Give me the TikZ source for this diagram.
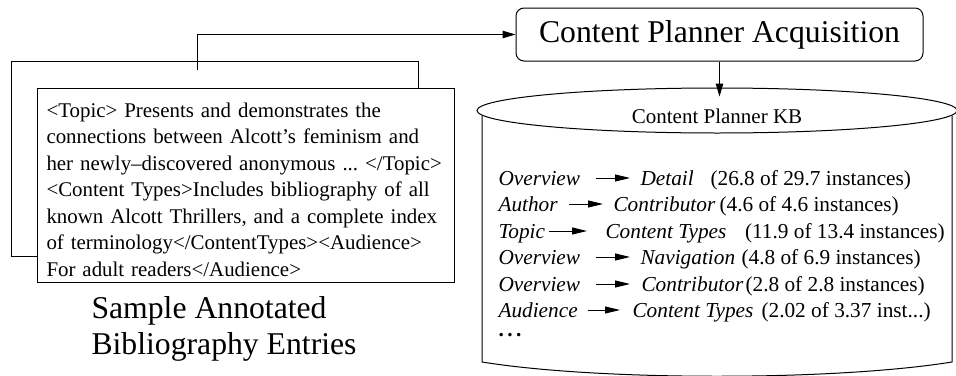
\documentclass[tikz,border=0pt]{standalone}
\usepackage{fontspec}
\setmainfont{Liberation Serif}
\usetikzlibrary{arrows.meta,shapes.geometric}
\frenchspacing
\begin{document}
\begin{tikzpicture}[x=1pt,y=-1pt,line width=1pt,
  box/.style={draw, fill=white, inner sep=0pt, anchor=north west},
  tip/.style={-{Triangle[length=13pt,width=7.5pt]}},
  kbtext/.style={inner sep=0pt, anchor=base west, font=\fontsize{21.3}{26}\selectfont},
  kbname/.style={inner sep=0pt, anchor=base west, font=\fontsize{21.3}{26}\selectfont\itshape},
  kbarrow/.style={-{Triangle[length=15pt,width=7pt]}, line width=1pt}]
\useasboundingbox (0,0) rectangle (956,375);
% bibliography entries
\node[box, minimum width=407pt, minimum height=195pt] (back) at (11,61) {};
\node[box, minimum width=417pt, minimum height=194pt] (front) at (37,88) {};
\node[anchor=north west, inner sep=0pt, text width=430pt, align=left,
      font=\fontsize{20.9}{26.5}\selectfont] (entry) at (46,102)
  {<Topic> Presents and demonstrates the\\
   connections between Alcott’s feminism and\\
   her newly–discovered anonymous ... </Topic>\\
   <Content Types>Includes bibliography of all\\
   known Alcott Thrillers, and a complete index\\
   of terminology</ContentTypes><Audience>\\
   For adult readers</Audience>};
\node[anchor=north west, inner sep=0pt, align=left,
      font=\fontsize{31.7}{36}\selectfont] (caption) at (91,296.3)
  {Sample Annotated\\Bibliography Entries};
% acquisition
\node[draw, rounded corners=8pt, minimum width=407pt, minimum height=53pt, inner sep=0pt,
      font=\fontsize{31.7}{36}\selectfont] (cpa) at (719.5,34.5) {Content Planner Acquisition};
\coordinate (start) at (197,70);
\draw[tip] (start) |- (cpa.west);
% knowledge base cylinder
\draw (482,115.6) -- (482,362) .. controls (600,381) and (834,381) .. (952,362) -- (952,115.6);
\node[draw, ellipse, minimum width=480pt, minimum height=45pt, inner sep=0pt] (kb) at (717,110.5) {};
\node[inner sep=0pt, anchor=base, font=\fontsize{21}{26}\selectfont] (kblabel) at (717,123.3) {Content Planner KB};
\draw[tip, shorten >=-9pt] (cpa.south) -- (cpa.south |- kb.north);
% rows
\node[kbname] (l1) at (498,185) {Overview};
\node[kbname] (r1) at (640,185) {Detail};
\node[kbtext] (n1) at (710,185) {(26.8 of 29.7 instances)};
\draw[kbarrow, shorten <=15.4pt, shorten >=10pt] ([yshift=7pt]l1.base east) -- ([yshift=7pt]r1.base west);
\node[kbname] (l2) at (498,211) {Author};
\node[kbname] (r2) at (613,211) {Contributor};
\node[kbtext] (n2) at (719,211) {(4.6 of 4.6 instances)};
\draw[kbarrow, shorten <=10.8pt, shorten >=10pt] ([yshift=7pt]l2.base east) -- ([yshift=7pt]r2.base west);
\node[kbname] (l3) at (498,238) {Topic};
\node[kbname] (r3) at (605,238) {Content Types};
\node[kbtext] (n3) at (744.5,238) {(11.9 of 13.4 instances)};
\draw[kbarrow, shorten <=3.5pt, shorten >=18pt] ([yshift=7pt]l3.base east) -- ([yshift=7pt]r3.base west);
\node[kbname] (l4) at (498,264) {Overview};
\node[kbname] (r4) at (640,264) {Navigation};
\node[kbtext] (n4) at (741,264) {(4.8 of 6.9 instances)};
\draw[kbarrow, shorten <=15.4pt, shorten >=10pt] ([yshift=7pt]l4.base east) -- ([yshift=7pt]r4.base west);
\node[kbname] (l5) at (498,291) {Overview};
\node[kbname] (r5) at (641,291) {Contributor};
\node[kbtext] (n5) at (745,291) {(2.8 of 2.8 instances)};
\draw[kbarrow, shorten <=15.4pt, shorten >=11pt] ([yshift=7pt]l5.base east) -- ([yshift=7pt]r5.base west);
\node[kbname] (l6) at (498,317) {Audience};
\node[kbname] (r6) at (632,317) {Content Types};
\node[kbtext] (n6) at (761,317) {(2.02 of 3.37 inst...)};
\draw[kbarrow, shorten <=9.7pt, shorten >=12pt] ([yshift=7pt]l6.base east) -- ([yshift=7pt]r6.base west);
\node[kbtext] (dots) at (498,336) {\textbf{.\,.\,.}};
\end{tikzpicture}
\end{document}
